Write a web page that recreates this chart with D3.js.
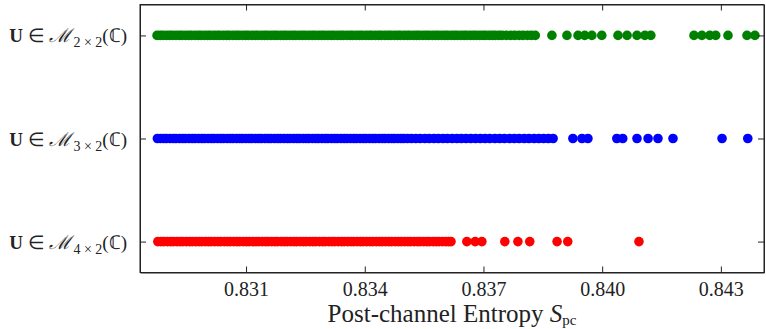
<!DOCTYPE html>
<html>
<head>
<meta charset="utf-8">
<script src="https://cdn.jsdelivr.net/npm/d3@7"></script>
<style>
  body { margin: 0; background: #fff; }
  svg { display: block; }
  .axis path, .axis line { stroke: #222; }
  .tick-label { font-family: "Liberation Serif", serif; font-size: 20px; fill: #222; }
  .row-label { font-family: "Liberation Serif", serif; font-size: 19px; fill: #222; }
  .x-title { font-family: "Liberation Serif", serif; font-size: 25px; fill: #222; }
</style>
</head>
<body>
<svg id="chart"></svg>
<script>
// rows, top to bottom
const rows = ['2 × 2', '3 × 2', '4 × 2'];
const rowColors = ['#008000', '#0000ff', '#ff0000'];

const xTicks = [0.831, 0.834, 0.837, 0.840, 0.843];
const xDomain = [0.82832, 0.84409];

// post-channel entropy samples
const entropy2x2 = [
  0.82875, 0.82883, 0.82890, 0.82899, 0.82907, 0.82914, 0.82923, 0.82931, 0.82938, 0.82947,
  0.82955, 0.82962, 0.82971, 0.82979, 0.82986, 0.82995, 0.83003, 0.83010, 0.83019, 0.83027,
  0.83034, 0.83043, 0.83051, 0.83058, 0.83067, 0.83075, 0.83082, 0.83091, 0.83099, 0.83106,
  0.83115, 0.83123, 0.83130, 0.83139, 0.83147, 0.83154, 0.83163, 0.83171, 0.83178, 0.83187,
  0.83195, 0.83202, 0.83211, 0.83219, 0.83226, 0.83235, 0.83243, 0.83250, 0.83259, 0.83267,
  0.83274, 0.83283, 0.83291, 0.83298, 0.83307, 0.83315, 0.83322, 0.83331, 0.83339, 0.83346,
  0.83355, 0.83363, 0.83370, 0.83379, 0.83387, 0.83394, 0.83403, 0.83411, 0.83418, 0.83427,
  0.83435, 0.83442, 0.83451, 0.83459, 0.83466, 0.83475, 0.83483, 0.83490, 0.83499, 0.83507,
  0.83514, 0.83523, 0.83531, 0.83538, 0.83547, 0.83555, 0.83562, 0.83571, 0.83579, 0.83586,
  0.83595, 0.83603, 0.83610, 0.83619, 0.83627, 0.83634, 0.83643, 0.83651, 0.83658, 0.83667,
  0.83675, 0.83682, 0.83691, 0.83699, 0.83706, 0.83715, 0.83723, 0.83730, 0.83739, 0.83747,
  0.83758, 0.83769, 0.83779, 0.83790, 0.83800, 0.83811, 0.83821, 0.83831,
  0.83873, 0.83911, 0.83939, 0.83956, 0.83974, 0.83999, 0.84040, 0.84063, 0.84088, 0.84108,
  0.84123, 0.84232, 0.84252, 0.84272, 0.84287, 0.84318, 0.84366, 0.84386
];
const entropy3x2 = [
  0.82876, 0.82884, 0.82892, 0.82899, 0.82908, 0.82916, 0.82923, 0.82932, 0.82940, 0.82947,
  0.82956, 0.82964, 0.82971, 0.82980, 0.82988, 0.82995, 0.83004, 0.83012, 0.83019, 0.83028,
  0.83036, 0.83043, 0.83052, 0.83060, 0.83067, 0.83076, 0.83084, 0.83091, 0.83100, 0.83108,
  0.83115, 0.83124, 0.83132, 0.83139, 0.83148, 0.83156, 0.83163, 0.83172, 0.83180, 0.83187,
  0.83196, 0.83204, 0.83211, 0.83220, 0.83228, 0.83235, 0.83244, 0.83252, 0.83259, 0.83268,
  0.83276, 0.83283, 0.83292, 0.83300, 0.83307, 0.83316, 0.83324, 0.83331, 0.83340, 0.83348,
  0.83355, 0.83364, 0.83372, 0.83379, 0.83388, 0.83396, 0.83403, 0.83412, 0.83420, 0.83427,
  0.83436, 0.83444, 0.83451, 0.83460, 0.83468, 0.83475, 0.83484, 0.83492, 0.83499, 0.83508,
  0.83518, 0.83529, 0.83540, 0.83552, 0.83563, 0.83575, 0.83586, 0.83598, 0.83609, 0.83621,
  0.83633, 0.83644, 0.83656, 0.83668, 0.83680, 0.83692, 0.83704, 0.83716, 0.83729, 0.83741,
  0.83753, 0.83766, 0.83778, 0.83790, 0.83803, 0.83815, 0.83828, 0.83840, 0.83852, 0.83864,
  0.83876, 0.83926, 0.83949, 0.83964, 0.84037, 0.84052, 0.84088, 0.84116, 0.84141, 0.84179,
  0.84303, 0.84368
];
const entropy4x2 = [
  0.82877, 0.82885, 0.82892, 0.82901, 0.82909, 0.82916, 0.82925, 0.82933, 0.82940, 0.82949,
  0.82957, 0.82964, 0.82973, 0.82981, 0.82988, 0.82997, 0.83005, 0.83012, 0.83021, 0.83029,
  0.83036, 0.83045, 0.83053, 0.83060, 0.83069, 0.83077, 0.83084, 0.83093, 0.83101, 0.83108,
  0.83117, 0.83125, 0.83132, 0.83141, 0.83149, 0.83156, 0.83165, 0.83173, 0.83180, 0.83189,
  0.83197, 0.83204, 0.83213, 0.83221, 0.83228, 0.83237, 0.83245, 0.83252, 0.83261, 0.83269,
  0.83276, 0.83285, 0.83293, 0.83300, 0.83309, 0.83317, 0.83324, 0.83333, 0.83341, 0.83348,
  0.83357, 0.83365, 0.83372, 0.83381, 0.83389, 0.83396, 0.83405, 0.83413, 0.83420, 0.83429,
  0.83437, 0.83444, 0.83453, 0.83461, 0.83468, 0.83477, 0.83485, 0.83492, 0.83501, 0.83509,
  0.83516, 0.83525, 0.83533, 0.83540, 0.83549, 0.83557, 0.83564, 0.83573, 0.83581, 0.83588,
  0.83597, 0.83605, 0.83612, 0.83618,
  0.83658, 0.83679, 0.83696, 0.83754, 0.83787, 0.83817, 0.83886, 0.83913, 0.84093
];
const series = [entropy2x2, entropy3x2, entropy4x2];

const width = 766, height = 329;
const margin = {top: 4.5, right: 2, bottom: 56.5, left: 140};
const innerW = width - margin.left - margin.right;
const innerH = height - margin.top - margin.bottom;

const svg = d3.select('#chart')
    .attr('width', width)
    .attr('height', height);

const chart = svg.append('g')
    .attr('transform', `translate(${margin.left},${margin.top})`);

const xScale = d3.scaleLinear().domain(xDomain).range([0, innerW]);
const yScale = d3.scalePoint().domain(rows).range([0, innerH]).padding(0.3);

// dots first so the frame sits on top
series.forEach((vals, i) => {
  chart.append('g')
    .selectAll('circle')
    .data(vals)
    .join('circle')
      .attr('cx', d => xScale(d))
      .attr('cy', yScale(rows[i]))
      .attr('r', 4.8)
      .attr('fill', rowColors[i]);
});

// axes, ticks pointing inward on all four sides
const xAxisG = chart.append('g')
    .attr('class', 'axis')
    .attr('transform', `translate(0,${innerH})`)
    .call(d3.axisBottom(xScale).tickValues(xTicks).tickSizeInner(-6).tickSizeOuter(0)
      .tickPadding(9).tickFormat(d3.format('.3f')));
xAxisG.selectAll('text').attr('class', 'tick-label');
xAxisG.attr('font-family', null).attr('font-size', null);

chart.append('g').attr('class', 'axis')
    .call(d3.axisTop(xScale).tickValues(xTicks).tickSizeInner(-6).tickSizeOuter(0).tickFormat(''));
chart.append('g').attr('class', 'axis')
    .call(d3.axisLeft(yScale).tickSizeInner(-6).tickSizeOuter(0).tickFormat(''));
chart.append('g').attr('class', 'axis')
    .attr('transform', `translate(${innerW},0)`)
    .call(d3.axisRight(yScale).tickSizeInner(-6).tickSizeOuter(0).tickFormat(''));

chart.append('rect')
    .attr('width', innerW)
    .attr('height', innerH)
    .attr('fill', 'none')
    .attr('stroke', '#222')
    .attr('stroke-width', 1);

// row labels: U ∈ M_{n×2}(C)
rows.forEach(r => {
  const t = svg.append('text')
      .attr('class', 'row-label')
      .attr('x', 127)
      .attr('y', margin.top + yScale(r) + 7)
      .attr('text-anchor', 'end');
  t.append('tspan').attr('font-weight', 'bold').text('U');
  t.append('tspan').text(' ∈ ');
  t.append('tspan').attr('font-style', 'italic').text('ℳ');
  t.append('tspan').attr('font-size', '14px').attr('dy', 5).attr('dx', 2).text(r);
  t.append('tspan').attr('dy', -5).text('(ℂ)');
});

// x title
const xt = svg.append('text')
    .attr('class', 'x-title')
    .attr('x', margin.left + innerW / 2)
    .attr('y', 322)
    .attr('text-anchor', 'middle');
xt.append('tspan').text('Post-channel Entropy ');
xt.append('tspan').attr('font-style', 'italic').text('S');
xt.append('tspan').attr('font-size', '15px').attr('dy', 3).text('pc');
</script>
</body>
</html>
